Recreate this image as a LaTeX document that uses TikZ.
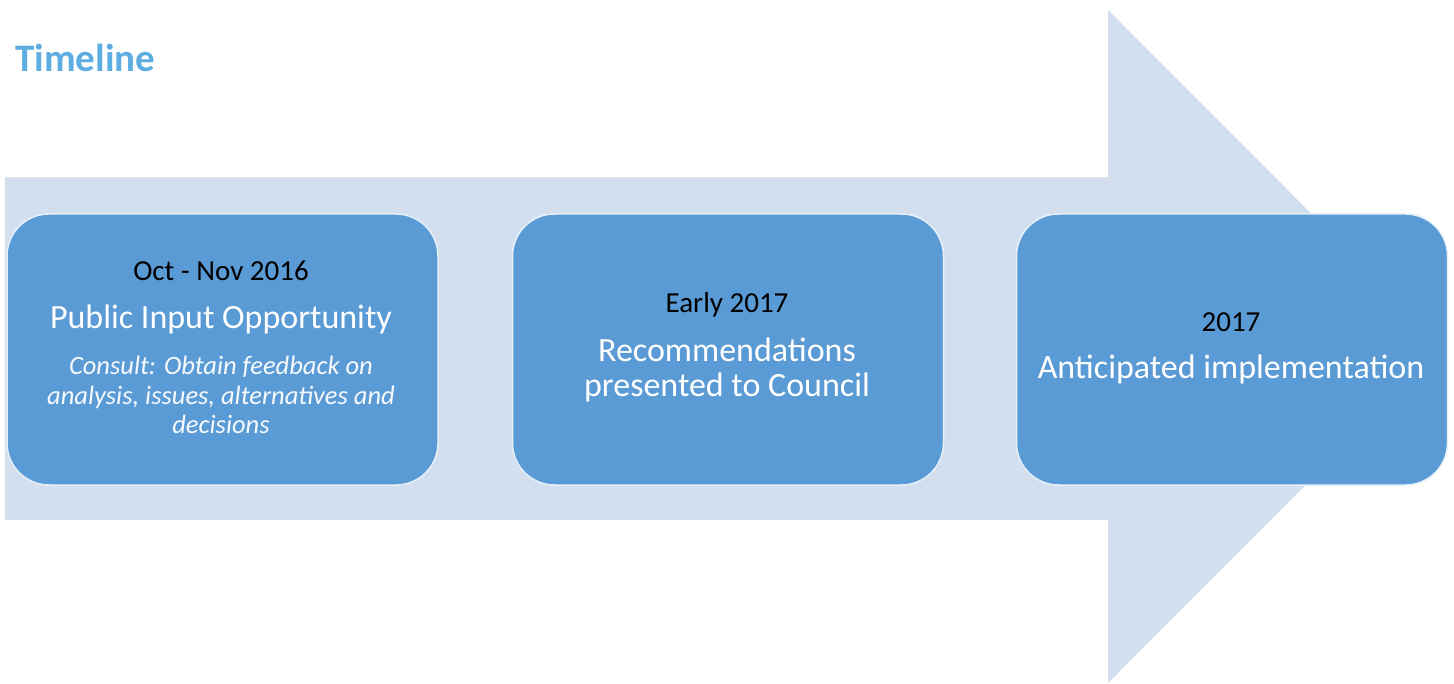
\documentclass[tikz,border=0pt]{standalone}
\usepackage{fontspec}
\setmainfont{Carlito}
\definecolor{arrowfill}{HTML}{D3DEEF}
\definecolor{boxfill}{HTML}{5B9BD5}
\definecolor{titleblue}{HTML}{5DADE2}
\begin{document}
\begin{tikzpicture}[x=1pt,y=-1pt,
  stagebox/.style={draw=white!85!boxfill,line width=1.5pt,fill=boxfill,rounded corners=42pt,
    minimum width=431pt,minimum height=271pt,inner sep=0pt},
  datetext/.style={anchor=base,text=black,font=\fontsize{29}{34}\selectfont,inner sep=0pt},
  maintext/.style={anchor=base,text=white,font=\fontsize{34}{36}\selectfont,inner sep=0pt},
  notetext/.style={anchor=base,text=white!95!boxfill,font=\fontsize{26.5}{29}\itshape,inner sep=0pt}]
  \useasboundingbox (0,0) rectangle (1454,684);
  % heading
  \node[anchor=base west,inner sep=0pt,text=titleblue,font=\fontsize{39}{40}\bfseries\selectfont]
    (title) at (15,72) {Timeline};
  % large background arrow
  \fill[arrowfill] (5,178) -- (1108,178) -- (1108,10) -- (1444,346.5)
    -- (1108,683) -- (1108,520) -- (5,520) -- cycle;
  \draw[white!90!arrowfill!80!gray,line width=1pt] (5,178) -- (1108,178);
  % three stages
  \node[stagebox] (s1) at (222.5,349.5) {};
  \node[stagebox] (s2) at (728,349.5) {};
  \node[stagebox] (s3) at (1232,349.5) {};
  % stage 1 text
  \node[datetext] (d1) at (221,281) {Oct - Nov 2016};
  \node[maintext] (m1) at (221,328.5) {Public Input Opportunity};
  \node[notetext] (n1a) at (221,375) {Consult: Obtain feedback on};
  \node[notetext] (n1b) at (221,404.5) {analysis, issues, alternatives and};
  \node[notetext] (n1c) at (221,433) {decisions};
  % stage 2 text
  \node[datetext] (d2) at (727,313) {Early 2017};
  \node[maintext] (m2a) at (727,362) {Recommendations};
  \node[maintext] (m2b) at (727,397) {presented to Council};
  % stage 3 text
  \node[datetext] (d3) at (1231,332) {2017};
  \node[maintext] (m3) at (1231,378.5) {Anticipated implementation};
\end{tikzpicture}
\end{document}
